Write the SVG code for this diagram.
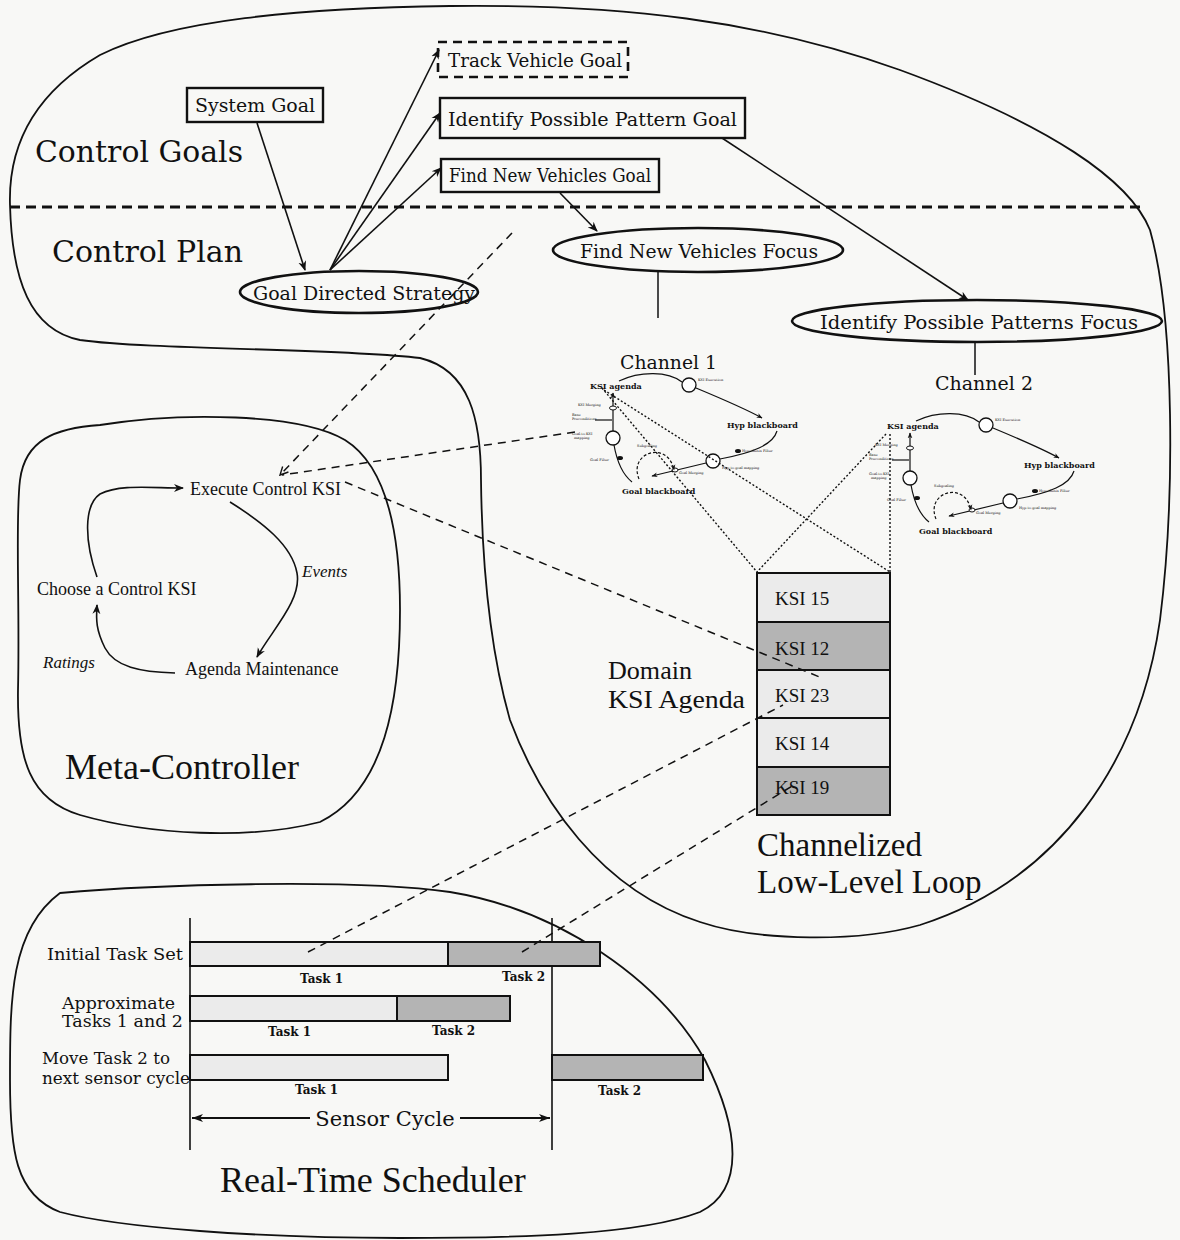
<svg xmlns="http://www.w3.org/2000/svg" width="1180" height="1240" viewBox="0 0 1180 1240">
<defs>
<style>
.blob{fill:none;stroke:#111;stroke-width:1.8}
.box{fill:none;stroke:#111;stroke-width:2.4}
.ell{fill:none;stroke:#111;stroke-width:2.6}
.arr{fill:none;stroke:#111;stroke-width:1.6}
.dash{fill:none;stroke:#111;stroke-width:1.5;stroke-dasharray:8 6}
.dot{fill:none;stroke:#111;stroke-width:1.4;stroke-dasharray:2 2}
.cen{font-family:"DejaVu Serif","Liberation Serif",serif;fill:#111}
.tim{font-family:"Liberation Serif","Times New Roman",serif;fill:#111}
.lt{fill:#ebebeb;stroke:#111;stroke-width:2}
.dk{fill:#b4b4b4;stroke:#111;stroke-width:2}
.mini{font-family:"DejaVu Serif",serif;font-weight:bold;fill:#111}
.tiny{font-family:"DejaVu Serif",serif;font-size:3.5px;fill:#111}
.ml{fill:none;stroke:#111;stroke-width:1.2}
</style>
<marker id="ah" viewBox="0 0 10 10" refX="9" refY="5" markerWidth="10" markerHeight="10" markerUnits="userSpaceOnUse" orient="auto"><path d="M0,1 L10,5 L0,9 L3,5 Z" fill="#111"/></marker>
<marker id="ahs" viewBox="0 0 10 10" refX="9" refY="5" markerWidth="6" markerHeight="6" markerUnits="userSpaceOnUse" orient="auto"><path d="M0,1 L10,5 L0,9 L3,5 Z" fill="#111"/></marker>
<marker id="open" viewBox="0 0 10 10" refX="9" refY="5" markerWidth="10" markerHeight="10" markerUnits="userSpaceOnUse" orient="auto"><path d="M1,1 L9,5 L1,9" fill="none" stroke="#111" stroke-width="1.4"/></marker>
<marker id="bar" viewBox="0 0 12 12" refX="11" refY="6" markerWidth="12" markerHeight="12" markerUnits="userSpaceOnUse" orient="auto"><path d="M0,2 L11,6 L0,10 L3,6 Z" fill="#111"/></marker>
<g id="channel">
<text class="mini" x="590" y="389" font-size="8">KSI agenda</text>
<path class="ml" d="M619,381 C640,371 668,371 682,382"/>
<circle cx="689" cy="385" r="7" fill="#fff" stroke="#111" stroke-width="1.3"/>
<text class="tiny" x="698" y="381">KSI Execution</text>
<path class="ml" d="M696,388 C720,398 744,408 762,418" marker-end="url(#ahs)"/>
<text class="mini" x="727" y="428" font-size="8">Hyp blackboard</text>
<path class="ml" d="M777,431 C773,445 752,453 720,459"/>
<ellipse cx="738" cy="451" rx="3" ry="2" fill="#111"/>
<text class="tiny" x="742" y="452">Hypothesis Filter</text>
<circle cx="713" cy="461" r="7" fill="#fff" stroke="#111" stroke-width="1.3"/>
<text class="tiny" x="722" y="469">Hyp-to-goal mapping</text>
<path class="ml" d="M706,463 L652,476" marker-end="url(#ahs)"/>
<ellipse cx="675" cy="470" rx="3" ry="2" fill="#fff" stroke="#111" stroke-width="1"/>
<text class="tiny" x="679" y="474">Goal Merging</text>
<text class="mini" x="622" y="494" font-size="8">Goal blackboard</text>
<path class="ml" d="M632,482 C622,474 617,462 614,445"/>
<ellipse cx="620" cy="458" rx="3" ry="2" fill="#111"/>
<text class="tiny" x="590" y="461">Goal Filter</text>
<circle cx="613" cy="438" r="7" fill="#fff" stroke="#111" stroke-width="1.3"/>
<text class="tiny" x="572" y="435">Goal-to-KSI</text>
<text class="tiny" x="574" y="439">mapping</text>
<path class="ml" d="M613,431 L613,393" marker-end="url(#ahs)"/>
<ellipse cx="613" cy="408" rx="3.5" ry="2" fill="#fff" stroke="#111" stroke-width="1"/>
<text class="tiny" x="578" y="406">KSI Merging</text>
<text class="tiny" x="572" y="416">Base</text>
<text class="tiny" x="572" y="420">Preconditions</text>
<path class="ml" d="M595,420 L612,420"/>
<path class="ml" stroke-dasharray="3 2" d="M639,479 C628,452 668,440 674,470" marker-end="url(#ahs)"/>
<text class="tiny" x="637" y="447">Subgoaling</text>
</g>
</defs>
<rect width="1180" height="1240" fill="#f8f8f6"/>

<g id="regions">
<path class="blob" d="M10,205 C8,140 40,90 100,55 C170,20 300,8 450,6 C620,4 760,20 900,70 C1050,125 1130,180 1150,230 C1175,320 1175,500 1160,620 C1140,760 1060,880 920,925 C860,942 760,942 700,922 C600,890 540,800 510,720 C490,650 482,560 481,480 C481,420 470,370 420,358 C340,348 150,350 80,340 C30,330 12,280 10,205 Z"/>
<path class="blob" d="M100,425 C180,412 300,413 345,440 C385,465 400,530 400,610 C400,700 385,790 320,822 C250,840 150,835 80,815 C30,800 17,760 18,690 C20,600 15,520 20,480 C25,440 55,428 100,425 Z"/>
<path class="blob" d="M60,893 C150,885 350,878 450,892 C560,910 660,980 705,1060 C740,1130 745,1190 700,1212 C640,1235 520,1238 400,1238 C260,1238 120,1228 60,1212 C15,1195 10,1150 10,1080 C10,1000 10,930 60,893 Z"/>
<line x1="10" y1="207" x2="1142" y2="207" stroke="#111" stroke-width="3" stroke-dasharray="10 6"/>
<text class="cen" x="35" y="162" font-size="30" textLength="208" lengthAdjust="spacingAndGlyphs">Control Goals</text>
<text class="cen" x="52" y="262" font-size="30" textLength="191" lengthAdjust="spacingAndGlyphs">Control Plan</text>
<text class="tim" x="65" y="779" font-size="36">Meta-Controller</text>
<text class="tim" x="757" y="856" font-size="33">Channelized</text>
<text class="tim" x="757" y="893" font-size="33">Low-Level Loop</text>
<text class="tim" x="220" y="1192" font-size="36">Real-Time Scheduler</text>
</g>

<g id="system-goal"><rect class="box" x="187" y="88" width="136" height="34"/><text class="cen" x="195" y="112" font-size="18" textLength="120" lengthAdjust="spacingAndGlyphs">System Goal</text></g>
<g id="track-vehicle-goal"><rect x="438" y="42" width="190" height="35" fill="none" stroke="#111" stroke-width="2.6" stroke-dasharray="9 6"/><text class="cen" x="448" y="67" font-size="18" textLength="174" lengthAdjust="spacingAndGlyphs">Track Vehicle Goal</text></g>
<g id="identify-goal"><rect class="box" x="440" y="98" width="305" height="40"/><text class="cen" x="448" y="126" font-size="18" textLength="289" lengthAdjust="spacingAndGlyphs">Identify Possible Pattern Goal</text></g>
<g id="find-goal"><rect class="box" x="441" y="159" width="218" height="33"/><text class="cen" x="449" y="182" font-size="18" textLength="202" lengthAdjust="spacingAndGlyphs">Find New Vehicles Goal</text></g>
<g id="goal-directed-strategy"><ellipse class="ell" cx="359" cy="292" rx="119" ry="21"/><text class="cen" x="253" y="300" font-size="18" textLength="222" lengthAdjust="spacingAndGlyphs">Goal Directed Strategy</text></g>
<g id="find-focus"><ellipse class="ell" cx="698" cy="250" rx="145" ry="22"/><text class="cen" x="580" y="258" font-size="19" textLength="238" lengthAdjust="spacingAndGlyphs">Find New Vehicles Focus</text></g>
<g id="identify-focus"><ellipse class="ell" cx="977" cy="321" rx="185" ry="21"/><text class="cen" x="820" y="329" font-size="19" textLength="318" lengthAdjust="spacingAndGlyphs">Identify Possible Patterns Focus</text></g>
<g id="channel-1-label"><text class="cen" x="620" y="369" font-size="18" textLength="97" lengthAdjust="spacingAndGlyphs">Channel 1</text></g>
<g id="channel-2-label"><text class="cen" x="935" y="390" font-size="18" textLength="98" lengthAdjust="spacingAndGlyphs">Channel 2</text></g>

<g id="channel-1-diagram"><use href="#channel"/></g>
<g id="channel-2-diagram"><use href="#channel" transform="translate(297,40)"/></g>

<g id="meta-controller">
<text class="tim" x="190" y="495" font-size="18">Execute Control KSI</text>
<text class="tim" x="37" y="595" font-size="18">Choose a Control KSI</text>
<text class="tim" x="185" y="675" font-size="18">Agenda Maintenance</text>
<text class="tim" x="302" y="577" font-size="17" font-style="italic">Events</text>
<text class="tim" x="43" y="668" font-size="17" font-style="italic">Ratings</text>
</g>

<g id="ksi-agenda">
<text class="tim" x="608" y="679" font-size="25" textLength="84" lengthAdjust="spacingAndGlyphs">Domain</text>
<text class="tim" x="608" y="708" font-size="25" textLength="137" lengthAdjust="spacingAndGlyphs">KSI Agenda</text>
<rect class="lt" x="757" y="573" width="133" height="49"/>
<rect class="dk" x="757" y="622" width="133" height="48"/>
<rect class="lt" x="757" y="670" width="133" height="48"/>
<rect class="lt" x="757" y="718" width="133" height="49"/>
<rect class="dk" x="757" y="767" width="133" height="48"/>
<text class="tim" x="775" y="605" font-size="19">KSI 15</text>
<text class="tim" x="775" y="655" font-size="19">KSI 12</text>
<text class="tim" x="775" y="702" font-size="19">KSI 23</text>
<text class="tim" x="775" y="750" font-size="19">KSI 14</text>
<text class="tim" x="775" y="794" font-size="19">KSI 19</text>
</g>

<g id="scheduler">
<line x1="190" y1="918" x2="190" y2="1150" stroke="#111" stroke-width="1.6"/>
<line x1="552" y1="918" x2="552" y2="1150" stroke="#111" stroke-width="1.6"/>
<rect class="lt" x="190" y="942" width="258" height="24"/>
<rect class="dk" x="448" y="942" width="152" height="24"/>
<rect class="lt" x="190" y="996" width="207" height="25"/>
<rect class="dk" x="397" y="996" width="113" height="25"/>
<rect class="lt" x="190" y="1055" width="258" height="25"/>
<rect class="dk" x="552" y="1055" width="151" height="25"/>
<text class="cen" x="47" y="960" font-size="16" textLength="136" lengthAdjust="spacingAndGlyphs">Initial Task Set</text>
<text class="cen" x="62" y="1009" font-size="16" textLength="113" lengthAdjust="spacingAndGlyphs">Approximate</text>
<text class="cen" x="62" y="1027" font-size="16" textLength="121" lengthAdjust="spacingAndGlyphs">Tasks 1 and 2</text>
<text class="cen" x="42" y="1064" font-size="16" textLength="128" lengthAdjust="spacingAndGlyphs">Move Task 2 to</text>
<text class="cen" x="42" y="1084" font-size="16" textLength="148" lengthAdjust="spacingAndGlyphs">next sensor cycle</text>
<text class="cen" x="300" y="983" font-size="12" font-weight="bold">Task 1</text>
<text class="cen" x="502" y="981" font-size="12" font-weight="bold">Task 2</text>
<text class="cen" x="268" y="1036" font-size="12" font-weight="bold">Task 1</text>
<text class="cen" x="432" y="1035" font-size="12" font-weight="bold">Task 2</text>
<text class="cen" x="295" y="1094" font-size="12" font-weight="bold">Task 1</text>
<text class="cen" x="598" y="1095" font-size="12" font-weight="bold">Task 2</text>
<line x1="310" y1="1118" x2="192" y2="1118" stroke="#111" stroke-width="2" marker-end="url(#bar)"/>
<line x1="460" y1="1118" x2="550" y2="1118" stroke="#111" stroke-width="2" marker-end="url(#bar)"/>
<text class="cen" x="385" y="1126" font-size="21" text-anchor="middle">Sensor Cycle</text>
</g>

<g id="connectors">
<path class="arr" d="M257,123 L305,270" marker-end="url(#ah)"/>
<path class="arr" d="M330,270 L439,50" marker-end="url(#ah)"/>
<path class="arr" d="M330,270 L440,113" marker-end="url(#ah)"/>
<path class="arr" d="M330,270 L441,168" marker-end="url(#ah)"/>
<path class="arr" d="M560,193 L597,231" marker-end="url(#ah)"/>
<path class="arr" d="M722,138 L968,300" marker-end="url(#ah)"/>
<line x1="658" y1="272" x2="658" y2="318" stroke="#111" stroke-width="1.5"/>
<line x1="975" y1="343" x2="975" y2="375" stroke="#111" stroke-width="1.5"/>
<path class="dash" d="M512,233 L280,475" marker-end="url(#open)"/>
<path class="dash" d="M575,432 L282,475"/>
<path class="dash" d="M345,482 L822,678"/>
<path class="dash" d="M308,952 L783,705"/>
<path class="dash" d="M522,952 L797,783"/>
<path class="dot" d="M602,388 L757,572"/>
<path class="dot" d="M604,390 L890,572"/>
<path class="dot" d="M886,434 L757,572"/>
<path class="dot" d="M890,434 L890,572"/>
<path class="arr" d="M97,577 C84,540 84,505 100,494 C120,484 150,488 183,488" marker-end="url(#ah)"/>
<path class="arr" d="M230,502 C262,522 292,545 297,573 C302,600 272,630 257,657" marker-end="url(#ah)"/>
<path class="arr" d="M175,673 C140,672 115,667 105,648 C96,630 96,620 97,605" marker-end="url(#ah)"/>
</g>
</svg>
